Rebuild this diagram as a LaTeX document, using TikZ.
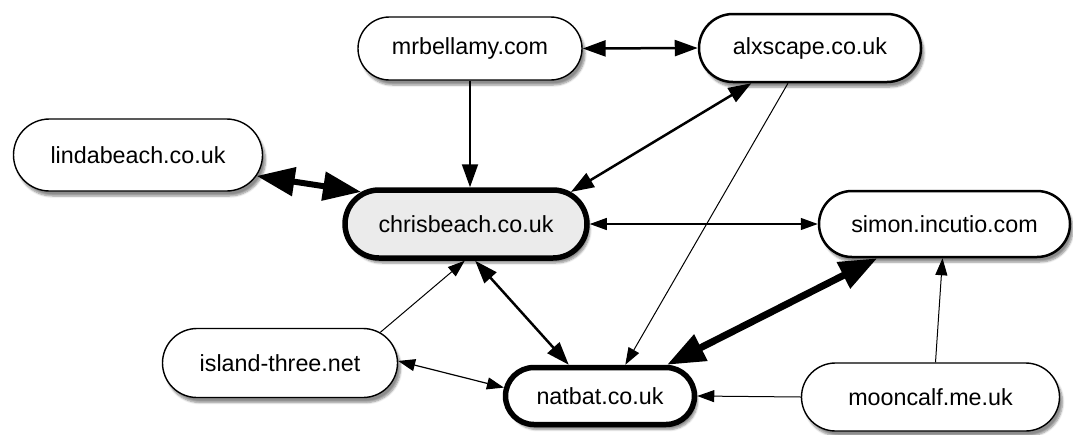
\documentclass[tikz,border=0pt]{standalone}
\usepackage{fontspec}
\setmainfont{Liberation Sans}
\usetikzlibrary{shapes.misc,arrows.meta,shadows.blur}
\tikzset{
  thinhead/.tip={Triangle[length=17pt, width=12pt]},
  midhead/.tip={Triangle[length=23pt, width=16pt]},
  bighead/.tip={Triangle[length=38pt, width=28pt]},
}
\begin{document}
\begin{tikzpicture}[x=1pt,y=-1pt,
  site/.style={rounded rectangle, draw=black, fill=white, line width=1.4pt,
    font=\fontsize{23.3}{26}\selectfont, inner sep=0pt,
    blur shadow={shadow xshift=3pt, shadow yshift=-5pt, shadow blur steps=6, shadow opacity=45}},
  hub/.style={site, line width=5.5pt},
  mid/.style={site, line width=2.5pt},
  thin/.style={line width=1pt},
  medium/.style={line width=2.5pt},
]
\useasboundingbox (0,0) rectangle (1073,434);

% sites
\node[site, minimum width=224pt, minimum height=63pt] (mrb)    at (470,48.5) {mrbellamy.com};
\node[mid,  minimum width=222pt, minimum height=68pt] (alx)    at (810,48)   {alxscape.co.uk};
\node[site, minimum width=249pt, minimum height=72pt] (linda)  at (138,155)  {lindabeach.co.uk};
\node[hub,  minimum width=242pt, minimum height=68pt, fill=black!8] (chris) at (466,224) {chrisbeach.co.uk};
\node[mid,  minimum width=251pt, minimum height=66pt] (simon)  at (944.5,224) {simon.incutio.com};
\node[site, minimum width=235pt, minimum height=69pt] (island) at (280,363)  {island-three.net};
\node[hub,  minimum width=189pt, minimum height=57pt] (nat)    at (600,396)  {natbat.co.uk};
\node[site, minimum width=258pt, minimum height=68pt] (moon)   at (930.5,397) {mooncalf.me.uk};

% links
\draw[medium, midhead-midhead] (mrb.east) -- (alx.west);
\draw[line width=2pt, -midhead] (mrb.south) -- (chris.north -| mrb.south);
\draw[medium, midhead-midhead] (alx.211) -- (chris.17);
\draw[thin, -thinhead] (alx.238) -- (nat.51);
\draw[line width=6pt, bighead-bighead] (linda.-10) -- (chris.163);
\draw[line width=1.2pt, thinhead-thinhead] (chris.east) -- (simon.west);
\draw[thin, -thinhead] (island.17) -- (chris.268);
\draw[medium, midhead-midhead] (chris.-76) -- (nat.135);
\draw[line width=1.2pt, thinhead-thinhead] (island.1) -- (nat.175);
\draw[line width=7pt, bighead-bighead] (simon.207) -- (nat.25);
\draw[thin, -thinhead] ([xshift=5pt]moon.north) -- ([xshift=-2pt]simon.south);
\draw[thin, -thinhead] (moon.west) -- (nat.east);
\end{tikzpicture}
\end{document}
